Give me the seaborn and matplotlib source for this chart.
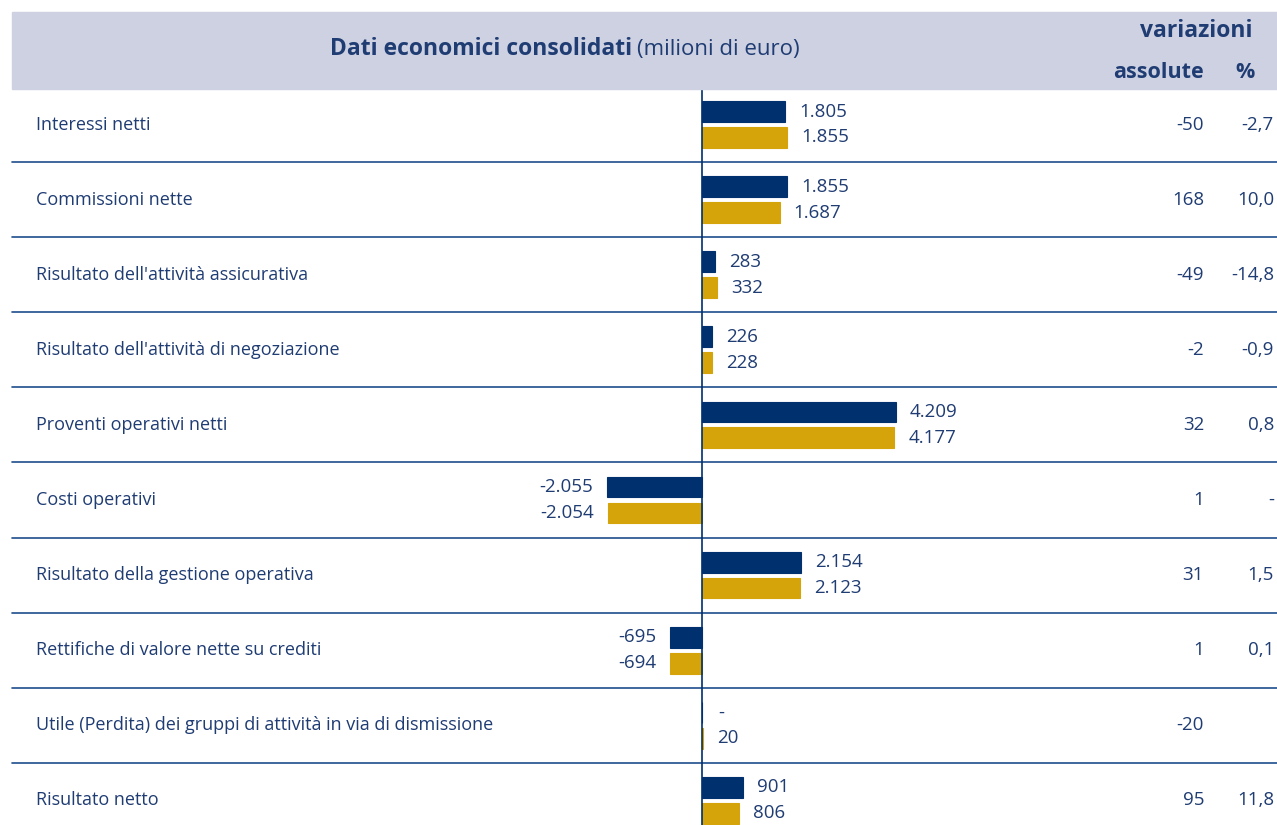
import pandas as pd
import matplotlib
matplotlib.use("Agg")
import matplotlib.pyplot as plt
import matplotlib.transforms as mtransforms
from matplotlib.patches import Rectangle
import seaborn as sns

# dati (milioni di euro)
voci = [
    "Interessi netti",
    "Commissioni nette",
    "Risultato dell'attività assicurativa",
    "Risultato dell'attività di negoziazione",
    "Proventi operativi netti",
    "Costi operativi",
    "Risultato della gestione operativa",
    "Rettifiche di valore nette su crediti",
    "Utile (Perdita) dei gruppi di attività in via di dismissione",
    "Risultato netto",
]
anno_corrente = [1805, 1855, 283, 226, 4209, -2055, 2154, -695, 0, 901]
anno_precedente = [1855, 1687, 332, 228, 4177, -2054, 2123, -694, 20, 806]
var_assolute = ["-50", "168", "-49", "-2", "32", "1", "31", "1", "-20", "95"]
var_perc = ["-2,7", "10,0", "-14,8", "-0,9", "0,8", "-", "1,5", "0,1", "", "11,8"]
serie = ["corrente", "precedente"]

NAVY = "#00306E"
GOLD = "#D4A40A"
TXT = "#1F3C73"
BAND = "#CDD1E2"
LINE = "#1F4E8C"

W, H = 1277, 825
sns.set_style("white")
plt.rcParams["font.family"] = ["Open Sans", "DejaVu Sans"]

df = pd.DataFrame({
    "voce": voci * 2,
    "serie": [serie[0]] * len(voci) + [serie[1]] * len(voci),
    "valore": anno_corrente + anno_precedente,
})

fig = plt.figure(figsize=(W / 100, H / 100), dpi=100)
ax = fig.add_axes([0, 0, 1, (H - 89) / H])

sns.barplot(data=df, x="valore", y="voce", hue="serie", order=voci,
            hue_order=serie, orient="h", palette=[NAVY, GOLD], saturation=1,
            width=0.69, gap=0.2, legend=False, ax=ax)
for p in ax.patches:
    p.set_edgecolor(p.get_facecolor())
    p.set_linewidth(0.8)

# scala: zero a 702 px
px_per_unit = 0.046
ax.set_xlim(-702 / px_per_unit, (W - 702) / px_per_unit)
ax.set_ylim((H - 124.5) / 75.1, (89 - 124.5) / 75.1)
ax.axis("off")

# linee separatrici e asse zero
for i in range(len(voci) - 1):
    ax.axhline(i + 0.5, xmin=12 / W, xmax=1, color=LINE, lw=1.2)
ax.axvline(0, color=NAVY, lw=1.2)

# etichette valori
NUM = 13.5
for cont, valori in zip(ax.containers, [anno_corrente, anno_precedente]):
    for bar, v in zip(cont, valori):
        y = bar.get_y() + bar.get_height() / 2
        if v == 0:
            ax.annotate("-", (0, y), xytext=(16, 0), textcoords="offset pixels",
                        ha="left", va="center", fontsize=NUM, color=TXT)
        elif v > 0:
            ax.annotate(f"{v:,}".replace(",", "."), (v, y), xytext=(14, 0),
                        textcoords="offset pixels", ha="left", va="center",
                        fontsize=NUM, color=TXT)
        else:
            ax.annotate(f"{v:,}".replace(",", "."), (v, y), xytext=(-14, 0),
                        textcoords="offset pixels", ha="right", va="center",
                        fontsize=NUM, color=TXT)

# voci e variazioni
trans = mtransforms.blended_transform_factory(ax.transAxes, ax.transData)
for i, voce in enumerate(voci):
    ax.text(36 / W, i, voce, transform=trans, ha="left", va="center",
            fontsize=13, color=TXT)
    ax.text(1204 / W, i, var_assolute[i], transform=trans, ha="right",
            va="center", fontsize=NUM, color=TXT)
    ax.text(1274 / W, i, var_perc[i], transform=trans, ha="right",
            va="center", fontsize=NUM, color=TXT)

# intestazione
fig.patches.append(Rectangle((12 / W, 1 - 89 / H), (W - 12) / W, 77 / H,
                             transform=fig.transFigure, color=BAND, zorder=0))
fig.text(632 / W, 1 - 49 / H, "Dati economici consolidati", ha="right",
         va="center", fontsize=16.5, fontweight="bold", color=TXT)
fig.text(637 / W, 1 - 49 / H, "(milioni di euro)", ha="left", va="center",
         fontsize=16, color=TXT)
fig.text(1253 / W, 1 - 31 / H, "variazioni", ha="right", va="center",
         fontsize=16.5, fontweight="bold", color=TXT)
fig.text(1204 / W, 1 - 72 / H, "assolute", ha="right", va="center",
         fontsize=15.5, fontweight="bold", color=TXT)
fig.text(1245 / W, 1 - 72 / H, "%", ha="center", va="center",
         fontsize=15.5, fontweight="bold", color=TXT)

fig.savefig("out.png", dpi=100)
